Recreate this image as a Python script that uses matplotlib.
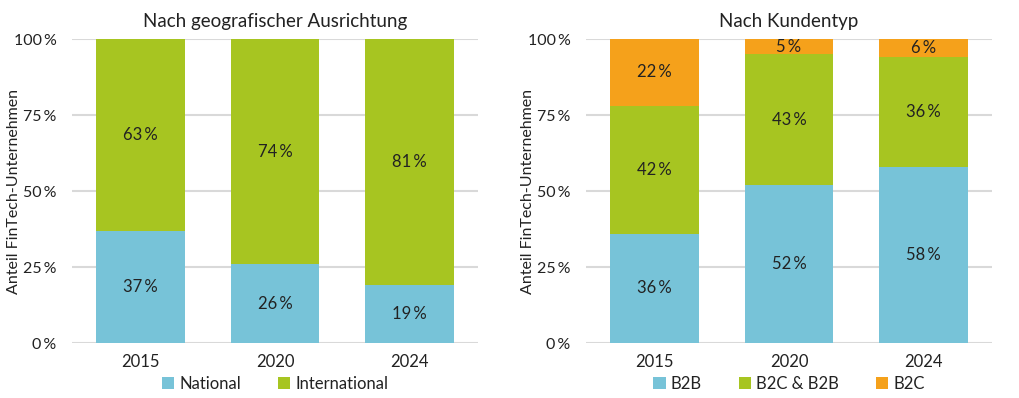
import numpy as np
import matplotlib.pyplot as plt
from matplotlib.patches import Patch

# ====== 数据 ======
years = ["2015", "2020", "2024"]

# 左图: 地理方向
national = [37, 26, 19]
international = [63, 74, 81]

# 右图: 客户类型
b2b = [36, 52, 58]
b2c_b2b = [42, 43, 36]
b2c = [22, 5, 6]

y_ticks = [0, 25, 50, 75, 100]
y_label = "Anteil FinTech-Unternehmen"

# ====== 风格 ======
plt.rcParams['font.family'] = ['Lato', 'DejaVu Sans']
plt.rcParams['font.size'] = 11.5
TEXT = '#222222'
BLUE = '#77C3D8'
GREEN = '#A7C521'
ORANGE = '#F5A11B'
GRID = '#D9D9D9'
TS = '\u2009'
FS = 12


def pct(v):
    return f"{v}{TS}%"


def setup_axis(ax, title):
    ax.set_xlim(-0.51, 2.51)
    ax.set_ylim(0, 100)
    ax.set_yticks(y_ticks)
    ax.set_yticklabels([pct(t) for t in y_ticks], color=TEXT, fontsize=11.5)
    ax.set_xticks(range(len(years)))
    ax.set_xticklabels(years, color=TEXT, fontsize=FS)
    ax.tick_params(length=0)
    ax.tick_params(axis='y', pad=11)
    ax.tick_params(axis='x', pad=8)
    for s in ax.spines.values():
        s.set_visible(False)
    ax.grid(axis='y', color=GRID, linewidth=1.5)
    ax.set_axisbelow(True)
    ax.set_title(title, fontsize=13.5, color=TEXT, pad=9)
    ax.set_ylabel(y_label, fontsize=11.5, color=TEXT)
    ax.yaxis.set_label_coords(-0.125, 0.5)


def stacked(ax, series, colors, names):
    x = np.arange(len(years))
    bottom = np.zeros(len(years))
    width = 0.66
    for vals, col in zip(series, colors):
        vals = np.array(vals, dtype=float)
        ax.bar(x, vals, width=width, bottom=bottom, color=col, edgecolor='none', zorder=2)
        for xi, b, v in zip(x, bottom, vals):
            ax.text(xi, b + v / 2, pct(int(v)), ha='center', va='center',
                    fontsize=FS, color=TEXT, zorder=3)
        bottom += vals
    handles = [Patch(facecolor=c, edgecolor='none', label=n) for c, n in zip(colors, names)]
    ax.legend(handles=handles, loc='center', bbox_to_anchor=(0.5, -0.135),
              ncol=len(names), frameon=False, fontsize=FS, handlelength=0.75,
              handleheight=0.75, handletextpad=0.3, columnspacing=2.2,
              labelcolor=TEXT, borderpad=0.1)


fig = plt.figure(figsize=(10.2, 3.98), dpi=100)
ax1 = fig.add_axes([0.0706, 0.138, 0.398, 0.764])
ax2 = fig.add_axes([0.5745, 0.138, 0.398, 0.764])

setup_axis(ax1, "Nach geografischer Ausrichtung")
stacked(ax1, [national, international], [BLUE, GREEN], ["National", "International"])

setup_axis(ax2, "Nach Kundentyp")
stacked(ax2, [b2b, b2c_b2b, b2c], [BLUE, GREEN, ORANGE], ["B2B", "B2C & B2B", "B2C"])

fig.savefig("out.png", dpi=100)
